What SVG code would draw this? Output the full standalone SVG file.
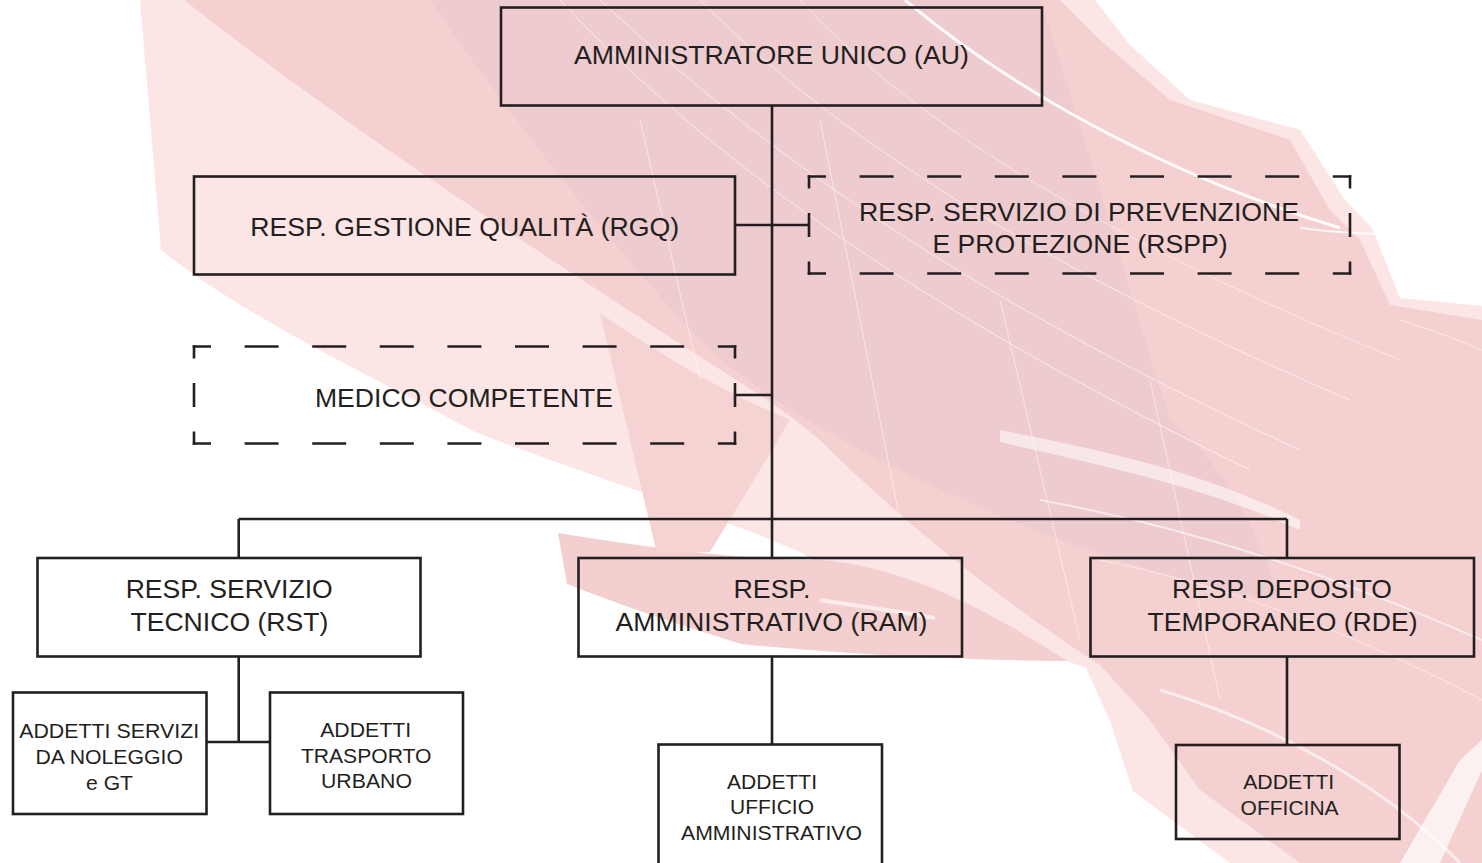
<svg xmlns="http://www.w3.org/2000/svg" width="1482" height="863" viewBox="0 0 1482 863">
<style>
.box{fill:none;stroke:#231f20;stroke-width:2.6}
.dh{stroke:#231f20;stroke-width:2.6;stroke-linecap:square;stroke-dasharray:31.4 36.2;stroke-dashoffset:15.7;fill:none}
.dv{stroke:#231f20;stroke-width:2.6;stroke-linecap:square;stroke-dasharray:21.4 27.1;stroke-dashoffset:10.7;fill:none}
.con{stroke:#231f20;stroke-width:2.6;fill:none}
text{font-family:"Liberation Sans",Arial,Helvetica,sans-serif;fill:#231f20;text-anchor:middle}
.big{font-size:26px}
.sm{font-size:21px}
.hl{fill:none;stroke:#ffffff}
</style>
<rect width="1482" height="863" fill="#ffffff"/>
<g id="background">
<path fill="#fbe5e5" d="M140,0 L1095,0 L1130,45 L1190,100 L1300,130 L1345,200 L1372,228 L1400,298 L1482,306 L1482,863 L1230,863 L1133,791 L1110,721 L1086,668 L1067,661 C980,640 880,600 800,552 C770,540 755,533 741,528 C640,490 550,462 473,431 C360,370 250,320 161,250 Z"/>
<path fill="#f4d0d0" d="M184,0 L1060,0 L1100,40 L1170,100 L1290,140 L1330,210 L1360,240 L1390,305 L1482,320 L1482,863 L1300,863 L1200,790 L1150,720 L1100,665 C1000,600 900,520 820,440 C790,415 765,398 741,383 C550,260 350,130 184,0 Z"/>
<path fill="#f4cfcf" d="M558,533 C650,548 740,560 820,560 C900,565 990,610 1067,661 C960,660 850,655 741,644 C680,625 620,605 567,584 Z"/>
<path fill="#f5d3d3" d="M600,313 L657,554 L710,552 L760,470 L790,420 C720,390 660,355 600,313 Z"/>
<path fill="#e4c2ca" opacity="0.38" d="M430,0 L1040,0 C1080,120 1120,260 1170,420 C1230,470 1260,540 1280,600 C1150,580 1000,520 900,470 C800,420 740,380 690,330 C600,230 520,130 430,0 Z"/>
<path fill="#ffffff" opacity="0.55" d="M1000,430 C1100,450 1200,470 1300,520 L1300,530 C1200,485 1100,465 1000,442 Z"/>
<g class="hl">
<path stroke-width="3" opacity="0.9" d="M905,0 C1000,80 1150,170 1340,228"/>
<path stroke-width="2" opacity="0.8" d="M1300,228 C1380,238 1440,234 1482,224"/>
<path stroke-width="4" opacity="0.6" d="M820,600 C860,606 900,612 935,618"/>
<path stroke-width="1" opacity="0.6" d="M560,0 C700,150 900,300 1250,470"/>
<path stroke-width="1" opacity="0.6" d="M600,0 C750,140 950,290 1300,450"/>
<path stroke-width="1" opacity="0.6" d="M700,0 C820,120 1000,250 1350,400"/>
<path stroke-width="1" opacity="0.5" d="M800,0 C900,110 1080,230 1400,360"/>
<path stroke-width="1" opacity="0.5" d="M640,120 L700,380"/>
<path stroke-width="1" opacity="0.5" d="M820,120 L900,520"/>
<path stroke-width="1" opacity="0.5" d="M1000,300 L1080,640"/>
<path stroke-width="1" opacity="0.5" d="M1150,380 L1220,700"/>
<path stroke-width="2" opacity="0.6" d="M1040,500 C1150,520 1300,560 1482,640"/>
<path stroke-width="3" opacity="0.6" d="M1160,690 C1260,720 1380,780 1460,863"/>
<path stroke-width="1" opacity="0.5" d="M1100,560 C1200,580 1330,620 1482,700"/>
<path stroke-width="1" opacity="0.5" d="M1400,320 C1430,330 1460,340 1482,350"/>
</g>
<path fill="#ffffff" opacity="0.7" d="M1400,863 L1460,760 L1482,740 L1482,770 L1440,863 Z"/>
</g>
<g id="connectors">
<path class="con" d="M772,106 V558"/>
<path class="con" d="M735,225 H809"/>
<path class="con" d="M735,395 H772"/>
<path class="con" d="M238.7,519 H1287"/>
<path class="con" d="M238.7,519 V558"/>
<path class="con" d="M1287,519 V558"/>
<path class="con" d="M238.7,657 V742"/>
<path class="con" d="M206.5,742 H270"/>
<path class="con" d="M772,657 V744.5"/>
<path class="con" d="M1287,657 V745"/>
</g>
<g id="node-au">
<rect class="box" x="501" y="7.5" width="541" height="98"/>
<text class="big" x="771.5" y="64" textLength="395" lengthAdjust="spacingAndGlyphs">AMMINISTRATORE UNICO (AU)</text>
</g>
<g id="node-rgq">
<rect class="box" x="194" y="176.5" width="541" height="98"/>
<text class="big" x="464.7" y="236" textLength="429" lengthAdjust="spacingAndGlyphs">RESP. GESTIONE QUALITÀ (RGQ)</text>
</g>
<g id="node-rspp">
<line class="dh" x1="809" y1="176.5" x2="1350" y2="176.5"/>
<line class="dh" x1="809" y1="273.5" x2="1350" y2="273.5"/>
<line class="dv" x1="809" y1="176.5" x2="809" y2="273.5"/>
<line class="dv" x1="1350" y1="176.5" x2="1350" y2="273.5"/>
<text class="big" x="1079" y="221" textLength="440" lengthAdjust="spacingAndGlyphs">RESP. SERVIZIO DI PREVENZIONE</text>
<text class="big" x="1080" y="252.5" textLength="295" lengthAdjust="spacingAndGlyphs">E PROTEZIONE (RSPP)</text>
</g>
<g id="node-medico">
<line class="dh" x1="194" y1="346.5" x2="735" y2="346.5"/>
<line class="dh" x1="194" y1="443.5" x2="735" y2="443.5"/>
<line class="dv" x1="194" y1="346.5" x2="194" y2="443.5"/>
<line class="dv" x1="735" y1="346.5" x2="735" y2="443.5"/>
<text class="big" x="464" y="407" textLength="298" lengthAdjust="spacingAndGlyphs">MEDICO COMPETENTE</text>
</g>
<g id="node-rst">
<rect class="box" x="37.5" y="558" width="383" height="98.5"/>
<text class="big" x="229.2" y="598" textLength="207" lengthAdjust="spacingAndGlyphs">RESP. SERVIZIO</text>
<text class="big" x="229.4" y="631" textLength="198" lengthAdjust="spacingAndGlyphs">TECNICO (RST)</text>
</g>
<g id="node-ram">
<rect class="box" x="578.5" y="558" width="383.5" height="98.5"/>
<text class="big" x="772" y="598" textLength="77" lengthAdjust="spacingAndGlyphs">RESP.</text>
<text class="big" x="771.5" y="631" textLength="312" lengthAdjust="spacingAndGlyphs">AMMINISTRATIVO (RAM)</text>
</g>
<g id="node-rde">
<rect class="box" x="1090.5" y="558" width="383.5" height="98.5"/>
<text class="big" x="1282" y="598" textLength="220" lengthAdjust="spacingAndGlyphs">RESP. DEPOSITO</text>
<text class="big" x="1282.5" y="630.5" textLength="270" lengthAdjust="spacingAndGlyphs">TEMPORANEO (RDE)</text>
</g>
<g id="node-addetti-servizi">
<rect class="box" x="13" y="692.5" width="193.5" height="121.5"/>
<text class="sm" x="109.2" y="738" textLength="180" lengthAdjust="spacingAndGlyphs">ADDETTI SERVIZI</text>
<text class="sm" x="109.2" y="764" textLength="147.5" lengthAdjust="spacingAndGlyphs">DA NOLEGGIO</text>
<text class="sm" x="109.5" y="790" textLength="47" lengthAdjust="spacingAndGlyphs">e GT</text>
</g>
<g id="node-addetti-trasporto">
<rect class="box" x="270" y="692.5" width="193" height="121.5"/>
<text class="sm" x="365.7" y="737" textLength="91" lengthAdjust="spacingAndGlyphs">ADDETTI</text>
<text class="sm" x="366.2" y="763" textLength="130.5" lengthAdjust="spacingAndGlyphs">TRASPORTO</text>
<text class="sm" x="366.5" y="788" textLength="91" lengthAdjust="spacingAndGlyphs">URBANO</text>
</g>
<g id="node-addetti-ufficio">
<rect class="box" x="658.5" y="744.5" width="223.5" height="130"/>
<text class="sm" x="772" y="789" textLength="90" lengthAdjust="spacingAndGlyphs">ADDETTI</text>
<text class="sm" x="772" y="814" textLength="84" lengthAdjust="spacingAndGlyphs">UFFICIO</text>
<text class="sm" x="771.5" y="840" textLength="181" lengthAdjust="spacingAndGlyphs">AMMINISTRATIVO</text>
</g>
<g id="node-addetti-officina">
<rect class="box" x="1176" y="745" width="223.5" height="94"/>
<text class="sm" x="1288.7" y="789" textLength="91" lengthAdjust="spacingAndGlyphs">ADDETTI</text>
<text class="sm" x="1289.6" y="815" textLength="98" lengthAdjust="spacingAndGlyphs">OFFICINA</text>
</g>
</svg>
